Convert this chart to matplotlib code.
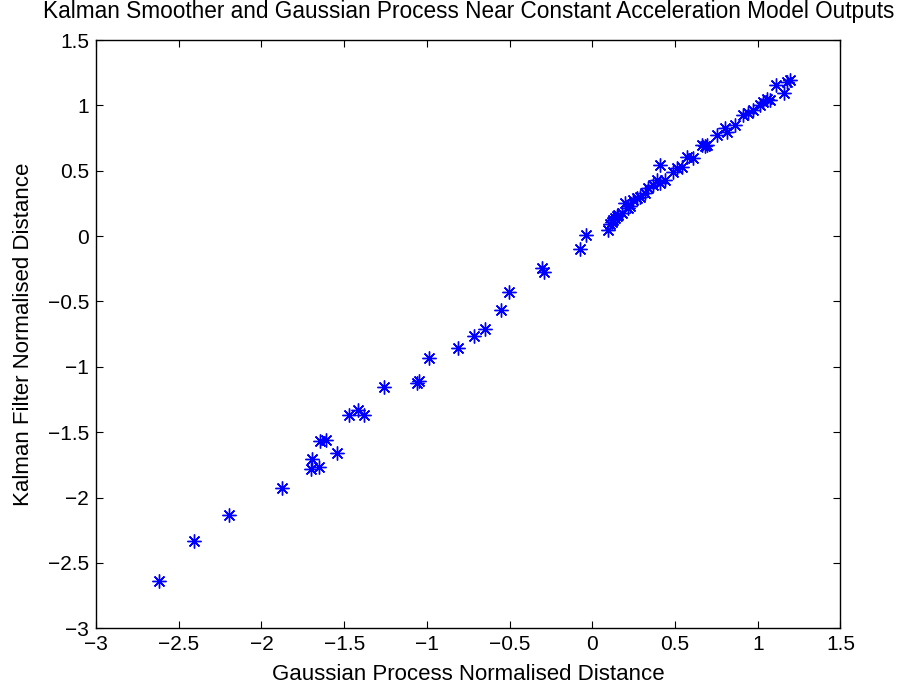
import matplotlib
matplotlib.use("Agg")
import matplotlib.pyplot as plt

plt.rcParams['font.family'] = ['Liberation Sans', 'DejaVu Sans']

gp_dist = [
    -2.620, -2.408, -2.197, -1.874, -1.693, -1.703, -1.652, -1.646, -1.612,
    -1.542, -1.471, -1.415, -1.378, -1.259, -1.058, -1.050, -0.985, -0.812,
    -0.717, -0.649, -0.550, -0.502, -0.306, -0.292, -0.073, -0.036,
    0.097, 0.107, 0.117, 0.127, 0.137, 0.147, 0.157, 0.178, 0.198, 0.218,
    0.228, 0.248, 0.268, 0.288, 0.319, 0.339, 0.369, 0.389, 0.409, 0.409,
    0.440, 0.490, 0.510, 0.540, 0.571, 0.611, 0.661, 0.681, 0.691, 0.752,
    0.802, 0.813, 0.863, 0.913, 0.943, 0.973, 1.014, 1.034, 1.054, 1.075,
    1.111, 1.159, 1.175, 1.195,
]
kf_dist = [
    -2.637, -2.334, -2.135, -1.923, -1.708, -1.783, -1.770, -1.568, -1.561,
    -1.658, -1.367, -1.331, -1.367, -1.158, -1.121, -1.110, -0.934, -0.853,
    -0.766, -0.708, -0.563, -0.430, -0.241, -0.277, -0.101, 0.007,
    0.047, 0.090, 0.111, 0.120, 0.137, 0.150, 0.162, 0.180, 0.252, 0.213,
    0.230, 0.277, 0.290, 0.302, 0.328, 0.366, 0.392, 0.430, 0.545, 0.405,
    0.430, 0.494, 0.519, 0.532, 0.608, 0.596, 0.698, 0.690, 0.700, 0.774,
    0.826, 0.800, 0.851, 0.927, 0.940, 0.966, 1.004, 1.029, 1.047, 1.042,
    1.157, 1.093, 1.182, 1.195,
]

x_ticks = [-3, -2.5, -2, -1.5, -1, -0.5, 0, 0.5, 1, 1.5]
y_ticks = [-3, -2.5, -2, -1.5, -1, -0.5, 0, 0.5, 1, 1.5]

fig = plt.figure(figsize=(9.02, 6.87), dpi=100)
ax = fig.add_axes([96/902, 1 - 628.3/687, (840.4 - 96)/902, (628.3 - 40)/687])

ax.plot(gp_dist, kf_dist, linestyle='none', marker=(8, 2, 0), markersize=10,
        markeredgewidth=1.0, color=(0, 0, 1))

ax.set_xlim(-3, 1.5)
ax.set_ylim(-3, 1.5)
ax.set_xticks(x_ticks)
ax.set_yticks(y_ticks)
ax.set_xticklabels([('%g' % v).replace('-', '\u2212') for v in x_ticks])
ax.set_yticklabels([('%g' % v).replace('-', '\u2212') for v in y_ticks])
ax.tick_params(direction='in', length=5, width=0.8, top=True, right=True,
               labelsize=15, pad=5)
for s in ax.spines.values():
    s.set_linewidth(1.0)

ax.set_xlabel('Gaussian Process Normalised Distance', fontsize=16, labelpad=7)
ax.set_ylabel('Kalman Filter Normalised Distance', fontsize=16, labelpad=10)
ax.set_title('Kalman Smoother and Gaussian Process Near Constant Acceleration Model Outputs',
             fontsize=16.3, pad=16)

fig.savefig('out.png', dpi=100)
